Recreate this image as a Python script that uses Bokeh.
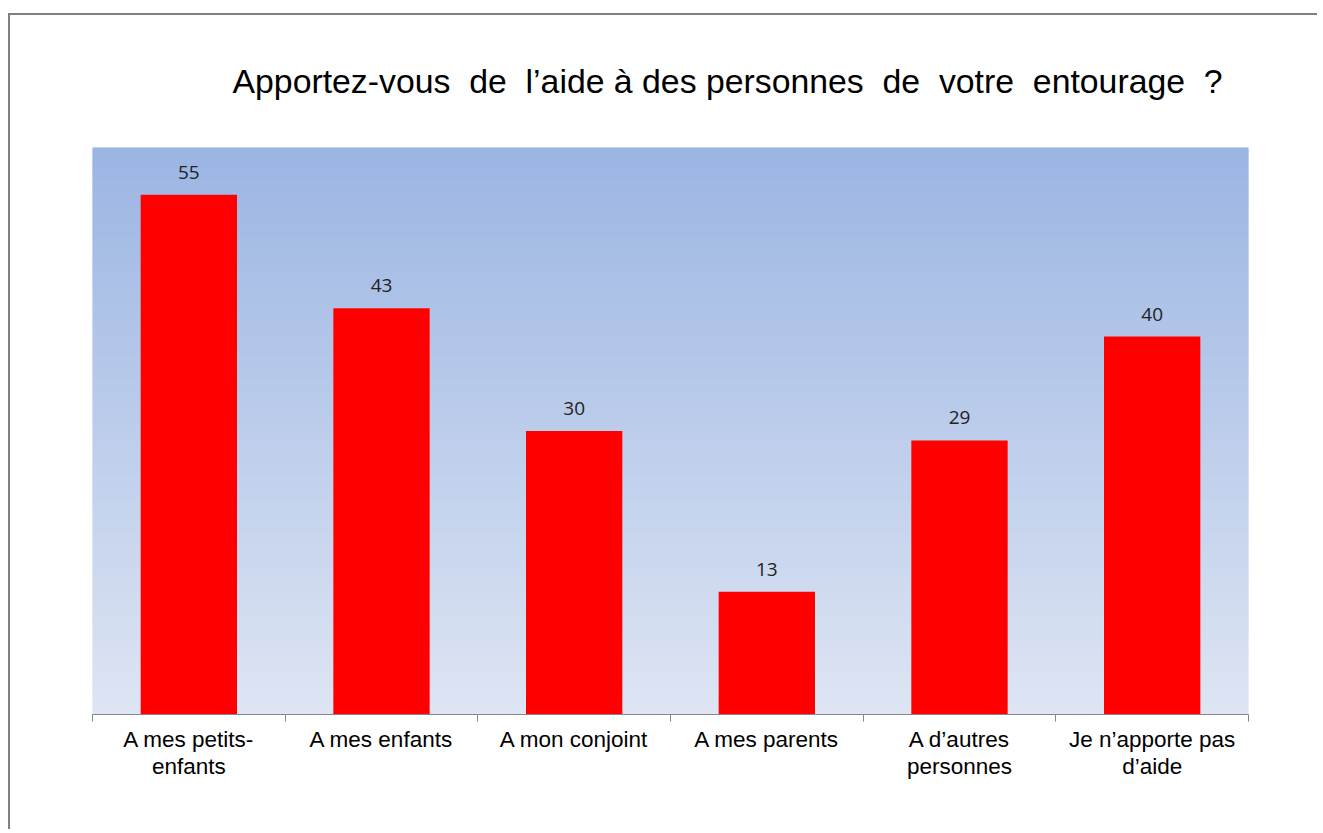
import numpy as np
from bokeh.plotting import figure
from bokeh.models import ColumnDataSource, Range1d, LinearAxis, FixedTicker, LabelSet
from bokeh.embed import file_html
from bokeh.resources import INLINE
from bokeh.core.properties import value

# ---- data ----
title_text = "Apportez-vous\u00a0 de\u00a0 l\u2019aide \u00e0 des personnes\u00a0 de\u00a0 votre\u00a0 entourage\u00a0 ?"
categories = [
    "A mes petits-\nenfants",
    "A mes enfants",
    "A mon conjoint",
    "A mes parents",
    "A d\u2019autres\npersonnes",
    "Je n\u2019apporte pas\nd\u2019aide",
]
values = [55, 43, 30, 13, 29, 40]
y_min, y_max = 0, 60

n = len(categories)
xs = np.arange(n) + 0.5

p = figure(
    width=1309, height=816,
    x_range=Range1d(0, n), y_range=Range1d(y_min, y_max),
    output_backend="svg", toolbar_location=None,
    x_axis_type=None, y_axis_type=None,
    min_border_left=82, min_border_right=71,
    min_border_top=132, min_border_bottom=117,
)
p.styles = {"border-top": "2px solid #808080", "border-left": "2px solid #808080",
            "margin-top": "13px", "margin-left": "8px"}
p.grid.visible = False
p.outline_line_color = None
p.background_fill_color = None
p.border_fill_color = "white"

# title
p.title.text = title_text
p.title.align = "left"
p.title.vertical_align = "top"
p.title.offset = 140
p.title.standoff = 91
p.title.text_font = "Liberation Sans"
p.title.text_font_size = "33.8px"
p.title.text_font_style = "normal"
p.title.text_color = "#000000"

# gradient background (style only)
top_rgb = np.array([155, 181, 227])
bot_rgb = np.array([222, 229, 243])
nstrip = 150
edges = np.linspace(y_min, y_max, nstrip + 1)
tt = ((edges[:-1] + edges[1:]) / 2 - y_min) / (y_max - y_min)
cols = ["#%02x%02x%02x" % tuple(int(round(c)) for c in (bot_rgb + (top_rgb - bot_rgb) * t)) for t in tt]
p.quad(left=0, right=n, bottom=edges[:-1], top=edges[1:], fill_color=cols, line_color=cols, line_width=1)

src = ColumnDataSource(dict(x=xs, top=values, label=[str(v) for v in values]))
p.vbar(x="x", top="top", bottom=0, width=0.5, source=src, fill_color="#ff0000", line_color=None)

labels = LabelSet(x="x", y="top", text="label", source=src, text_align="center",
                  text_baseline="alphabetic", y_offset=16,
                  text_font=value("Open Sans"), text_font_size="19px", text_color="#222222")
p.add_layout(labels)

ax = LinearAxis(
    ticker=FixedTicker(ticks=list(xs), minor_ticks=list(range(n + 1))),
    major_label_overrides={float(x): c for x, c in zip(xs, categories)},
)
ax.major_tick_out = 0
ax.major_tick_in = 0
ax.minor_tick_out = 7
ax.minor_tick_in = 0
ax.minor_tick_line_color = "#868686"
ax.axis_line_color = "#868686"
ax.major_label_text_font = "Liberation Sans"
ax.major_label_text_font_size = "22.5px"
ax.major_label_text_color = "#000000"
ax.major_label_text_line_height = 1.1
ax.major_label_standoff = 5
p.add_layout(ax, "below")

open("out.html", "w").write(file_html(p, INLINE))
